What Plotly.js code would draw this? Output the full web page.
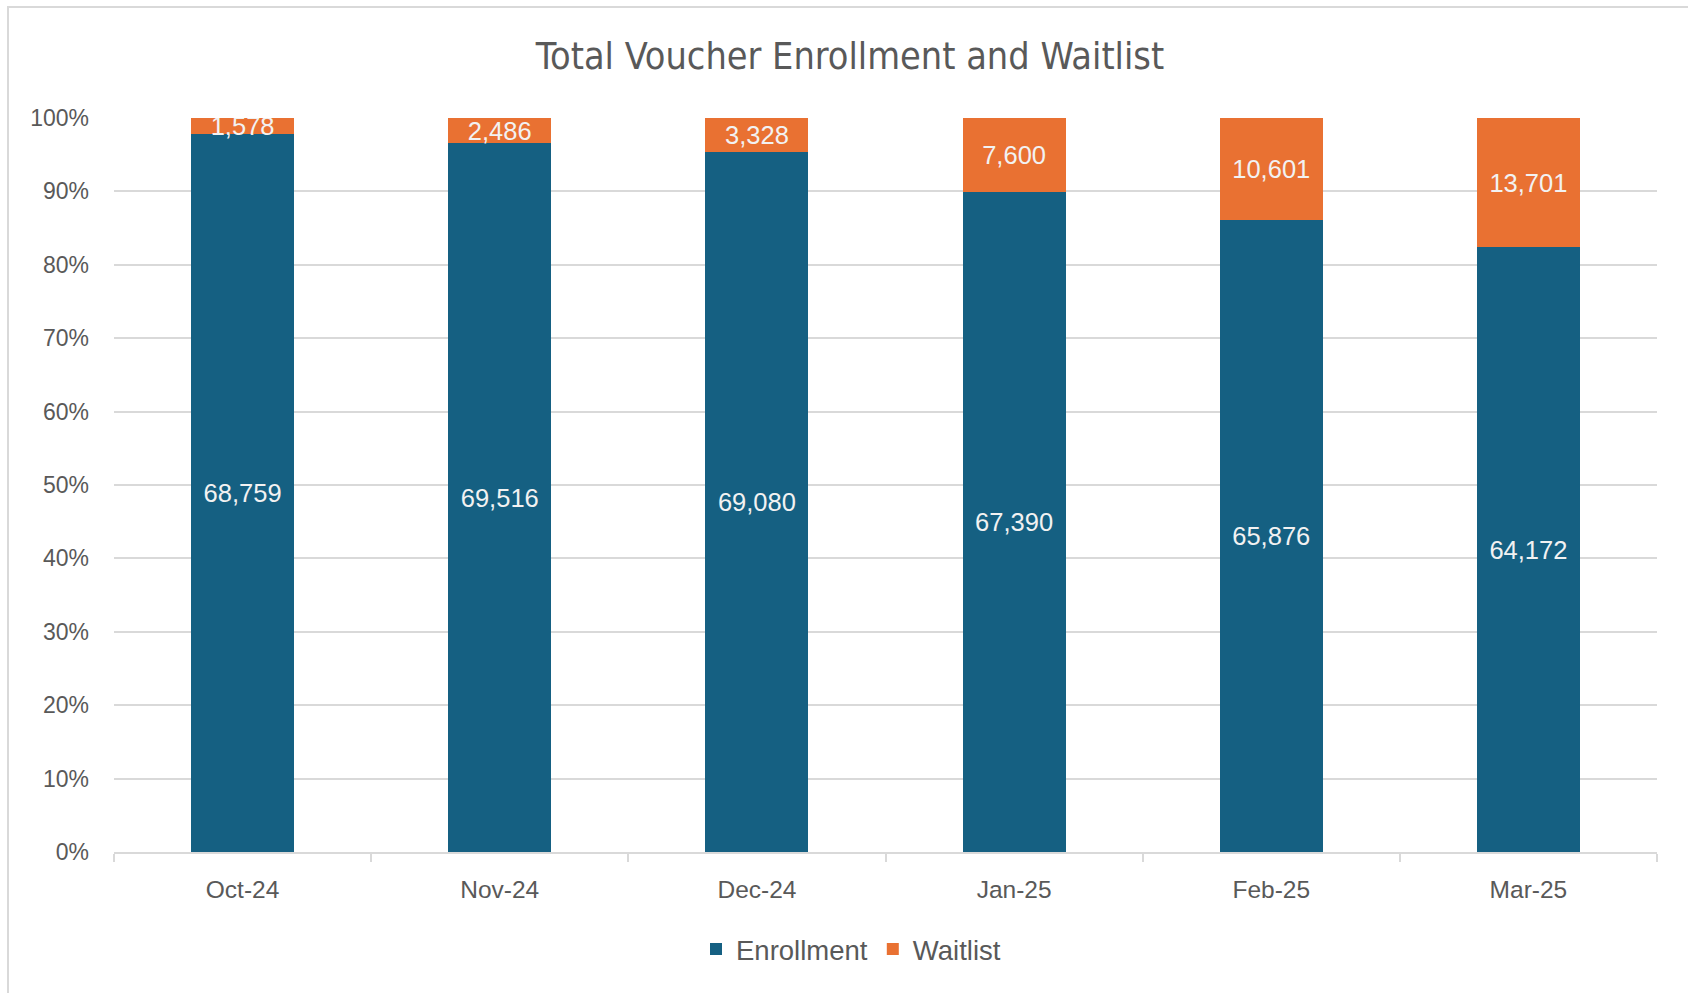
<!DOCTYPE html>
<html>
<head>
<meta charset="utf-8">
<script src="https://cdn.plot.ly/plotly-3.0.1.min.js"></script>
<style>
  html, body { margin: 0; padding: 0; background: #ffffff; }
  #wrap { position: relative; width: 1688px; height: 993px; overflow: hidden; }
  #chart { position: absolute; left: 0; top: 0; width: 1688px; height: 993px; }
  #frame { position: absolute; left: 7px; top: 6px; width: 1700px; height: 1000px;
           border: 2px solid #d9d9d9; pointer-events: none; }
</style>
</head>
<body>
<div id="wrap">
  <div id="chart"></div>
  <div id="frame"></div>
</div>
<script>
const months = ["Oct-24", "Nov-24", "Dec-24", "Jan-25", "Feb-25", "Mar-25"];
const enrollment = [68759, 69516, 69080, 67390, 65876, 64172];
const waitlist = [1578, 2486, 3328, 7600, 10601, 13701];
const yTickVals = [0, 10, 20, 30, 40, 50, 60, 70, 80, 90, 100];

const fmt = v => v.toLocaleString('en-US');
const labelFont = { family: "Liberation Sans, Arial, sans-serif", size: 25.5, color: "#f2f2f2" };

const traces = [
  {
    type: "bar", name: "Enrollment", x: months, y: enrollment,
    marker: { color: "#156082", line: { width: 0 } },
    text: enrollment.map(fmt), textposition: "inside", insidetextanchor: "middle",
    textangle: 0, constraintext: "none", textfont: labelFont, hoverinfo: "x+y+name"
  },
  {
    type: "bar", name: "Waitlist", x: months, y: waitlist,
    marker: { color: "#E97132", line: { width: 0 } },
    text: waitlist.map(fmt), textposition: "inside", insidetextanchor: "middle",
    textangle: 0, constraintext: "none", textfont: labelFont, hoverinfo: "x+y+name"
  }
];

const layout = {
  width: 1688, height: 993,
  paper_bgcolor: "#ffffff", plot_bgcolor: "#ffffff",
  barmode: "stack", barnorm: "percent", bargap: 0.6,
  margin: { l: 114, r: 31, t: 118, b: 141, pad: 0 },
  font: { family: "Liberation Sans, Arial, sans-serif", color: "#595959" },
  title: {
    text: "Total Voucher Enrollment and Waitlist",
    font: { family: "Liberation Sans Narrow, Arial Narrow, DejaVu Sans Condensed, sans-serif", size: 37.5, color: "#595959" },
    xref: "container", x: 850 / 1688, xanchor: "center",
    yref: "container", y: 1 - 56 / 993, yanchor: "middle"
  },
  xaxis: {
    type: "category",
    showgrid: false,
    showline: true, linecolor: "#d9d9d9", linewidth: 2,
    ticks: "outside", tickson: "boundaries", ticklen: 8, tickwidth: 2, tickcolor: "#d9d9d9",
    tickfont: { size: 24.5, color: "#595959" },
    ticklabelstandoff: 15,
    fixedrange: true
  },
  yaxis: {
    range: [0, 100],
    tickvals: yTickVals,
    ticktext: yTickVals.map(v => v + "%"),
    showgrid: true, gridcolor: "#d9d9d9", gridwidth: 2,
    zeroline: false, showline: false, ticks: "",
    tickfont: { size: 23, color: "#595959" },
    ticklabelstandoff: 24,
    fixedrange: true
  },
  showlegend: true,
  legend: {
    orientation: "h",
    xref: "container", x: 851 / 1688, xanchor: "center",
    yref: "container", y: 1 - 949 / 993, yanchor: "middle",
    font: { size: 27.5, color: "#595959" },
    itemwidth: 30,
    traceorder: "normal"
  }
};

Plotly.newPlot("chart", traces, layout, { displayModeBar: false, staticPlot: true });
</script>
</body>
</html>
